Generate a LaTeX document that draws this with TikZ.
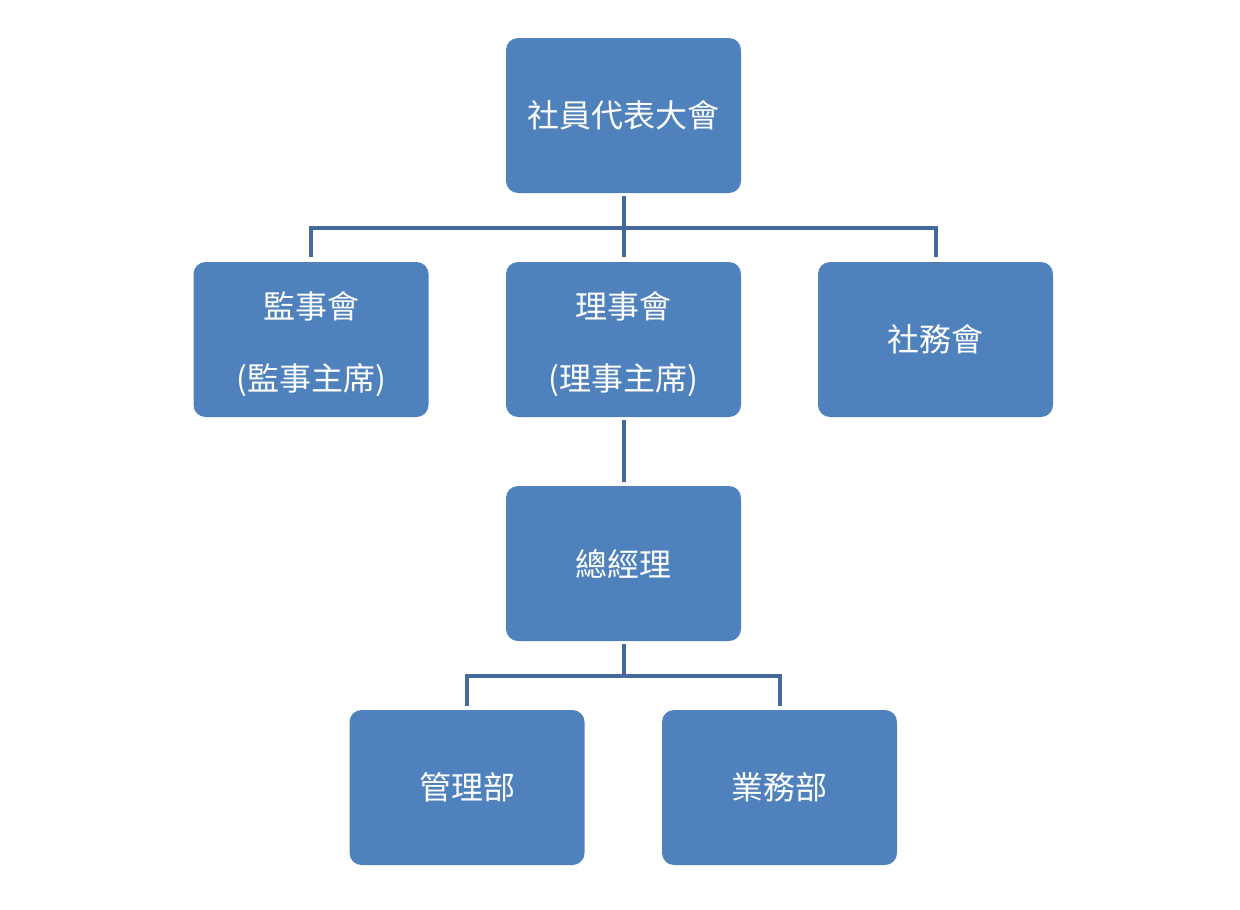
\documentclass[tikz,border=0pt]{standalone}
\usepackage{fontspec}
\setmainfont{Noto Sans CJK TC}
\definecolor{boxfill}{HTML}{4F81BD}
\definecolor{linecol}{HTML}{44699D}
\newcommand{\topgap}{\rule{0pt}{37pt}}
\begin{document}
\begin{tikzpicture}[x=1pt,y=-1pt,
  orgbox/.style={fill=boxfill,draw=none,rounded corners=12pt,minimum width=235pt,minimum height=155pt,inner sep=0pt,text=white,align=center,font=\fontsize{32}{72}\selectfont},
  conn/.style={draw=linecol,line width=4pt}]
\useasboundingbox (0,0) rectangle (1240,910);
\node[orgbox] (top) at (623.5,115.5) {社員代表大會};
\node[orgbox] (jian) at (311,339.5) {\topgap 監事會\\(監事主席)};
\node[orgbox] (li) at (623.5,339.5) {\topgap 理事會\\(理事主席)};
\node[orgbox] (she) at (935.5,339.5) {社務會};
\node[orgbox] (gm) at (623.5,563.5) {總經理};
\node[orgbox] (mgmt) at (467,787.5) {管理部};
\node[orgbox] (biz) at (779.5,787.5) {業務部};
\coordinate (busA) at (623.5,228);
\coordinate (busB) at (623.5,676);
% top level
\draw[conn] ([yshift=-3pt]top.south) -- ([yshift=5pt]li.north);
\draw[conn] ([yshift=5pt]jian.north) -- (jian.north |- busA) -- (she.north |- busA) -- ([yshift=5pt]she.north);
% board to general manager
\draw[conn] ([yshift=-3pt]li.south) -- ([yshift=4pt]gm.north);
% general manager to departments
\draw[conn] ([yshift=-3pt]gm.south) -- (busB);
\draw[conn] ([yshift=4pt]mgmt.north) -- (mgmt.north |- busB) -- (biz.north |- busB) -- ([yshift=4pt]biz.north);
\end{tikzpicture}
\end{document}
